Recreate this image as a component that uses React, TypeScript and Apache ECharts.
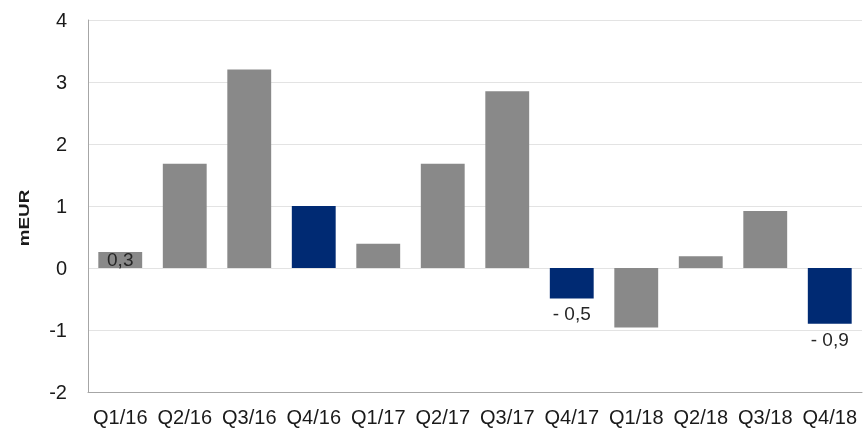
import React, { useEffect, useRef } from "react";
import * as echarts from "echarts";

const categories = ["Q1/16", "Q2/16", "Q3/16", "Q4/16", "Q1/17", "Q2/17", "Q3/17", "Q4/17", "Q1/18", "Q2/18", "Q3/18", "Q4/18"];
const values = [0.26, 1.68, 3.2, 1.0, 0.39, 1.68, 2.85, -0.49, -0.96, 0.19, 0.92, -0.9];
const highlighted = ["Q4/16", "Q4/17", "Q4/18"];
const labelled = ["Q1/16", "Q4/17", "Q4/18"];
const yTicks = { min: -2, max: 4, interval: 1 };
const axisTitle = "mEUR";

const GRAY = "#898989";
const NAVY = "#002a73";
const FONT = "Liberation Sans, Arial, sans-serif";

function fmt(v: number): string {
  const s = Math.abs(v).toFixed(1).replace(".", ",");
  return v < 0 ? "- " + s : s;
}

export default function App() {
  const ref = useRef<HTMLDivElement>(null);
  useEffect(() => {
    if (!ref.current) return;
    const chart = echarts.init(ref.current, null, { renderer: "svg" });
    const data = values.map((v, i) => {
      const cat = categories[i];
      const item: any = {
        value: v,
        itemStyle: { color: highlighted.includes(cat) ? NAVY : GRAY },
      };
      if (labelled.includes(cat)) {
        item.label = {
          show: true,
          position: v < 0 ? "bottom" : "inside",
          distance: 6,
          formatter: () => fmt(v),
          color: "#262626",
          fontSize: 19,
          fontFamily: FONT,
        };
      }
      return item;
    });
    chart.setOption({
      animation: false,
      grid: { left: 88, right: 1, top: 20, bottom: 36, containLabel: false },
      xAxis: {
        type: "category",
        data: categories,
        axisLine: { onZero: false, lineStyle: { color: "#a6a6a6", width: 1 } },
        axisTick: { show: false },
        axisLabel: { interval: 0, color: "#1a1a1a", fontSize: 20, fontFamily: FONT, margin: 15 },
      },
      yAxis: {
        type: "value",
        min: yTicks.min,
        max: yTicks.max,
        interval: yTicks.interval,
        axisLine: { show: true, lineStyle: { color: "#a6a6a6", width: 1 } },
        axisTick: { show: false },
        splitLine: { lineStyle: { color: "#e3e3e3", width: 1 } },
        axisLabel: { color: "#1a1a1a", fontSize: 20, fontFamily: FONT, margin: 21 },
      },
      graphic: [
        {
          type: "text",
          x: 24,
          y: 218,
          rotation: Math.PI / 2,
          scaleX: 1.35,
          style: {
            text: axisTitle,
            align: "center",
            verticalAlign: "middle",
            font: "bold 14px " + FONT,
            fill: "#1a1a1a",
          },
        },
      ],
      series: [
        {
          type: "bar",
          data,
          barCategoryGap: "32%",
        },
      ],
    });
    return () => chart.dispose();
  }, []);
  return <div ref={ref} style={{ position: "fixed", left: 0, top: 0, width: 863, height: 428 }} />;
}
